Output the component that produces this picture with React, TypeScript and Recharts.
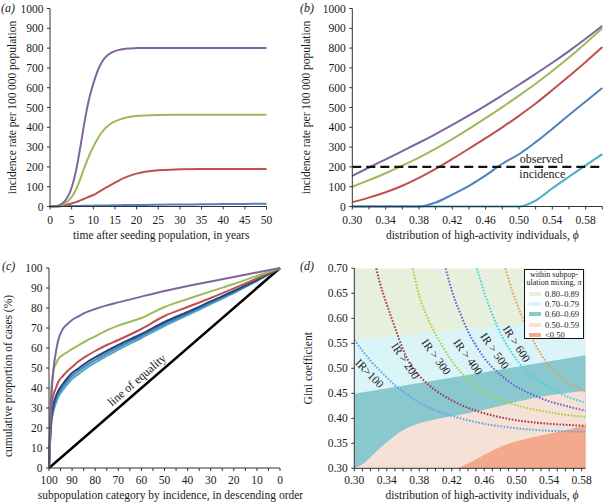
import React from 'react';
import { ComposedChart, LineChart, Line, Area, XAxis, YAxis, ReferenceLine, ReferenceDot } from 'recharts';

const FONT = "'Liberation Serif', 'Times New Roman', serif";
const INK = '#1a1a1a';
const AXIS = '#333';

const PURPLE = '#8064a2';
const GREEN = '#9bbb59';
const RED = '#c0504d';
const BLUE = '#4f81bd';
const NAVY = '#1f497d';
const CYAN = '#4bacc6';

// (a) incidence after seeding
const A_YEARS = [0, 1, 2, 3, 4, 5, 6, 7, 8, 9, 10, 11, 12, 13, 14, 15, 16, 17, 18, 20, 22, 25, 30, 35, 40, 45, 50];
const A_PURPLE = [0, 1, 5, 18, 45, 95, 180, 300, 430, 540, 620, 685, 730, 758, 775, 785, 791, 795, 798, 800, 801, 801, 801, 801, 801, 801, 801];
const A_GREEN = [0, 0, 3, 10, 24, 48, 85, 140, 200, 255, 302, 342, 375, 400, 418, 430, 439, 446, 451, 457, 460, 462, 463, 463, 463, 463, 463];
const A_RED = [0, 0, 1, 4, 9, 15, 22, 31, 40, 49, 58, 70, 83, 96, 108, 120, 132, 143, 152, 166, 175, 183, 188, 190, 190, 190, 190];
const A_BLUE = [0, 1, 1, 2, 2, 3, 3, 3, 4, 4, 4, 5, 5, 5, 6, 6, 6, 7, 7, 8, 8, 9, 10, 11, 12, 13, 14];

// (b) incidence vs phi
const B_PHI = [0.3, 0.32, 0.34, 0.36, 0.38, 0.4, 0.42, 0.44, 0.46, 0.48, 0.5, 0.52, 0.54, 0.56, 0.58, 0.6];
const B_PURPLE = [155, 197, 238, 280, 322, 366, 412, 460, 510, 562, 615, 670, 726, 785, 847, 912];
const B_GREEN = [100, 133, 168, 206, 247, 292, 340, 392, 446, 502, 560, 620, 684, 752, 825, 900];
const B_RED = [22, 45, 72, 105, 145, 190, 240, 292, 345, 400, 458, 520, 588, 658, 730, 805];
const B_BLUE = [0, 0, 0, 0, 0, 20, 60, 104, 157, 216, 264, 325, 392, 462, 530, 598];
const B_CYAN = [0, 0, 0, 0, 0, 0, 0, 0, 0, 0, 0, 30, 92, 150, 208, 265];
const OBSERVED = 200;

// (c) Lorenz curves
const C_X = [100, 99.5, 99, 98, 97, 96, 94, 92, 90, 87, 84, 80, 75, 70, 60, 50, 40, 30, 20, 10, 0];
const C_PURPLE = [0, 22, 35, 50, 58, 64, 69.5, 72, 74, 76, 77.8, 79.5, 81.3, 82.8, 85.7, 88.5, 91, 93.3, 95.5, 97.8, 100];
const C_GREEN = [0, 25, 40, 49, 52, 54.5, 56.5, 58, 59.5, 61.5, 63.5, 65.8, 68.8, 71.2, 75, 80.5, 84.5, 88.3, 92, 96, 100];
const C_RED = [0, 18, 30, 37, 40, 43, 46, 48.5, 50.5, 53.5, 55.8, 58.5, 61.5, 64, 69.5, 76, 80.5, 85, 89.8, 94.8, 100];
const C_NAVY = [0, 15, 25, 32, 36, 38.5, 42, 45, 47.5, 50, 52.5, 55.3, 58.5, 61.5, 67, 73, 78, 83.3, 88.5, 94, 100];
const C_BLUE = [0, 14, 23.5, 30.5, 34.5, 37, 40.5, 43.5, 46, 48.7, 51.2, 54, 57.2, 60.3, 66, 72, 77.2, 82.6, 88, 93.7, 100];
const C_CYAN = [0, 13, 22, 28.5, 32.5, 35.5, 39, 42, 44.5, 47.2, 49.8, 52.7, 56, 59.2, 65, 71, 76.4, 82, 87.5, 93.5, 100];
const C_EQUALITY_X = [100, 0];
const C_EQUALITY_Y = [0, 100];

// (d) mixing regions and IR contours
const D_GREEN_X = [0.3, 0.585];
const D_GREEN_Y = [0.7, 0.7];
const D_LCYAN_X = [0.3, 0.585];
const D_LCYAN_Y = [0.557, 0.601];
const D_TEAL_X = [0.3, 0.585];
const D_TEAL_Y = [0.449, 0.526];
const D_PEACH_X = [0.3, 0.31, 0.32, 0.33, 0.34, 0.35, 0.36, 0.37, 0.38, 0.39, 0.4, 0.42, 0.44, 0.46, 0.48, 0.5, 0.52, 0.54, 0.56, 0.585];
const D_PEACH_Y = [0.3, 0.308, 0.322, 0.338, 0.352, 0.365, 0.376, 0.384, 0.39, 0.394, 0.398, 0.404, 0.41, 0.417, 0.425, 0.433, 0.44, 0.446, 0.45, 0.455];
const D_SALMON_X = [0.3, 0.425, 0.44, 0.45, 0.46, 0.47, 0.48, 0.49, 0.5, 0.52, 0.54, 0.56, 0.585];
const D_SALMON_Y = [0.3, 0.3, 0.31, 0.318, 0.327, 0.335, 0.343, 0.349, 0.354, 0.362, 0.369, 0.376, 0.386];

const IR100_X = [0.3, 0.31, 0.32, 0.33, 0.34, 0.35, 0.36, 0.37, 0.38, 0.39, 0.4, 0.42, 0.44, 0.46, 0.48, 0.5, 0.52, 0.54, 0.56, 0.585];
const IR100_Y = [0.557, 0.535, 0.515, 0.498, 0.482, 0.466, 0.453, 0.442, 0.432, 0.423, 0.416, 0.405, 0.396, 0.389, 0.384, 0.38, 0.377, 0.375, 0.374, 0.373];
const IR200_X = [0.327, 0.33, 0.34, 0.35, 0.36, 0.37, 0.38, 0.39, 0.4, 0.42, 0.44, 0.46, 0.48, 0.5, 0.52, 0.54, 0.56, 0.585];
const IR200_Y = [0.7, 0.68, 0.628, 0.582, 0.538, 0.505, 0.485, 0.469, 0.456, 0.436, 0.421, 0.41, 0.402, 0.396, 0.392, 0.389, 0.387, 0.385];
const IR300_X = [0.372, 0.38, 0.39, 0.4, 0.41, 0.42, 0.43, 0.44, 0.46, 0.48, 0.5, 0.52, 0.54, 0.56, 0.585];
const IR300_Y = [0.7, 0.645, 0.602, 0.568, 0.54, 0.515, 0.494, 0.477, 0.452, 0.437, 0.426, 0.418, 0.412, 0.407, 0.403];
const IR400_X = [0.4125, 0.42, 0.43, 0.44, 0.45, 0.46, 0.47, 0.48, 0.49, 0.5, 0.52, 0.54, 0.56, 0.585];
const IR400_Y = [0.7, 0.656, 0.612, 0.574, 0.545, 0.521, 0.502, 0.487, 0.474, 0.463, 0.447, 0.434, 0.425, 0.415];
const IR500_X = [0.451, 0.46, 0.47, 0.48, 0.49, 0.5, 0.51, 0.52, 0.54, 0.56, 0.585];
const IR500_Y = [0.7, 0.652, 0.608, 0.57, 0.541, 0.517, 0.498, 0.484, 0.462, 0.445, 0.431];
const IR600_X = [0.486, 0.49, 0.5, 0.51, 0.52, 0.53, 0.54, 0.55, 0.56, 0.57, 0.585];
const IR600_Y = [0.7, 0.678, 0.63, 0.59, 0.556, 0.528, 0.505, 0.488, 0.475, 0.465, 0.453];

const MIX_LABELS = ['0.80\u20130.89', '0.70\u20130.79', '0.60\u20130.69', '0.50\u20130.59', '<0.50'];
const MIX_COLORS = ['#e6f0dc', '#dbf4f7', '#89c8cf', '#f5e1d5', '#f4a98d'];

const IR_NAMES = ['IR>100', 'IR > 200', 'IR > 300', 'IR > 400', 'IR > 500', 'IR > 600'];
const IR_COLORS = ['#5aa6e4', '#a83450', '#9ed63e', '#6a62d6', '#46d3e3', '#e6a052'];
const IR_SERIES = [
  [IR100_X, IR100_Y], [IR200_X, IR200_Y], [IR300_X, IR300_Y],
  [IR400_X, IR400_Y], [IR500_X, IR500_Y], [IR600_X, IR600_Y],
];
// anchor and angle of the rotated contour labels
const IR_LABEL_AT = [
  { x: 0.319, y: 0.49, angle: 46 },
  { x: 0.363, y: 0.515, angle: 56 },
  { x: 0.401, y: 0.523, angle: 54 },
  { x: 0.44, y: 0.523, angle: 54 },
  { x: 0.473, y: 0.535, angle: 55 },
  { x: 0.5, y: 0.549, angle: 57 },
];

const rows = (xs: number[], ys: number[]) => xs.map((x, i) => ({ x, y: ys[i] }));

const A_DATA = A_YEARS.map((t, i) => ({ t, purple: A_PURPLE[i], green: A_GREEN[i], red: A_RED[i], blue: A_BLUE[i] }));
const B_DATA = B_PHI.map((phi, i) => ({ phi, purple: B_PURPLE[i], green: B_GREEN[i], red: B_RED[i], blue: B_BLUE[i], cyan: B_CYAN[i] }));
const C_DATA = C_X.map((x, i) => ({ x, purple: C_PURPLE[i], green: C_GREEN[i], red: C_RED[i], navy: C_NAVY[i], blue: C_BLUE[i], cyan: C_CYAN[i] }));

const TXT = { fontFamily: FONT, fontSize: 11.5, fill: INK };
const tickStyle = { fontSize: 11.5, fill: INK, fontFamily: FONT };
const axisBits = {
  axisLine: { stroke: AXIS },
  tickLine: { stroke: AXIS },
  tickSize: 3,
  tick: tickStyle,
  interval: 0 as const,
};

const phi = <tspan fontStyle="italic">{'\u03d5'}</tspan>;

const xTitle = (content: React.ReactNode, dy: number, dx = 0) => (p: any) => {
  const vb = p.viewBox;
  return (
    <text x={vb.x + vb.width / 2 + dx} y={vb.y + dy} textAnchor="middle" dominantBaseline="central" style={TXT}>
      {content}
    </text>
  );
};

const yTitle = (content: string, dx: number, dy = 0) => (p: any) => {
  const vb = p.viewBox;
  const cx = vb.x + dx;
  const cy = vb.y + vb.height / 2 + dy;
  return (
    <text x={cx} y={cy} transform={`rotate(-90 ${cx} ${cy})`} textAnchor="middle" dominantBaseline="central" style={TXT}>
      {content}
    </text>
  );
};

const tagText = (content: string, dx: number, dy: number, angle: number, size: number) => (p: any) => {
  const vb = p.viewBox;
  const cx = vb.x + vb.width / 2 + dx;
  const cy = vb.y + vb.height / 2 + dy;
  return (
    <text x={cx} y={cy} transform={angle ? `rotate(${angle} ${cx} ${cy})` : undefined} textAnchor="middle"
      dominantBaseline="central" fontFamily={FONT} fontSize={size} fill={INK}>
      {content}
    </text>
  );
};

const fmt2 = (v: number) => v.toFixed(2);

function PanelA() {
  return (
    <LineChart width={282} height={250} data={A_DATA} margin={{ top: 8.5, right: 15.5, bottom: 0, left: 0 }}>
      <XAxis dataKey="t" type="number" domain={[0, 50]} ticks={[0, 5, 10, 15, 20, 25, 30, 35, 40, 45, 50]}
        height={43.5} tickMargin={6} {...axisBits}
        label={xTitle('time after seeding population, in years', 28.5, 3)} />
      <YAxis type="number" domain={[0, 1000]} ticks={[0, 100, 200, 300, 400, 500, 600, 700, 800, 900, 1000]}
        width={50} tickMargin={3.5} {...axisBits}
        label={yTitle('incidence rate per 100\u2009000 population', 11.5)} />
      <Line dataKey="blue" type="monotone" stroke={BLUE} strokeWidth={2} dot={false} isAnimationActive={false} />
      <Line dataKey="red" type="monotone" stroke={RED} strokeWidth={2} dot={false} isAnimationActive={false} />
      <Line dataKey="green" type="monotone" stroke={GREEN} strokeWidth={2} dot={false} isAnimationActive={false} />
      <Line dataKey="purple" type="monotone" stroke={PURPLE} strokeWidth={2} dot={false} isAnimationActive={false} />
    </LineChart>
  );
}

function PanelB() {
  return (
    <ComposedChart width={303} height={250} data={B_DATA} margin={{ top: 8.5, right: 0.7, bottom: 0, left: 0 }}>
      <XAxis dataKey="phi" type="number" domain={[0.3, 0.6]} ticks={B_PHI}
        tickFormatter={(v: number) => (Math.round(v * 100) % 4 === 2 ? fmt2(v) : '')}
        height={43.5} tickMargin={6} {...axisBits}
        label={xTitle(<>distribution of high-activity individuals, {phi}</>, 28.5, 5)} />
      <YAxis type="number" domain={[0, 1000]} ticks={[0, 100, 200, 300, 400, 500, 600, 700, 800, 900, 1000]}
        width={52.3} tickMargin={3.5} {...axisBits}
        label={yTitle('incidence rate per 100\u2009000 population', 6)} />
      <Line dataKey="cyan" type="monotone" stroke={CYAN} strokeWidth={2} dot={false} isAnimationActive={false} />
      <Line dataKey="blue" type="monotone" stroke={BLUE} strokeWidth={2} dot={false} isAnimationActive={false} />
      <Line dataKey="red" type="monotone" stroke={RED} strokeWidth={2} dot={false} isAnimationActive={false} />
      <Line dataKey="green" type="monotone" stroke={GREEN} strokeWidth={2} dot={false} isAnimationActive={false} />
      <Line dataKey="purple" type="monotone" stroke={PURPLE} strokeWidth={2} dot={false} isAnimationActive={false} />
      <ReferenceLine y={OBSERVED} stroke="#111" strokeWidth={2.3} strokeDasharray="9 5" />
      <ReferenceDot x={0.527} y={OBSERVED} r={0} fill="none" stroke="none" label={tagText('observed', 0, -7.6, 0, 12)} />
      <ReferenceDot x={0.528} y={OBSERVED} r={0} fill="none" stroke="none" label={tagText('incidence', 0, 7, 0, 12)} />
    </ComposedChart>
  );
}

function PanelC() {
  return (
    <LineChart width={303} height={252} data={C_DATA} margin={{ top: 18, right: 23, bottom: 0, left: 0 }}>
      <XAxis dataKey="x" type="number" domain={[0, 100]} reversed
        ticks={[100, 95, 90, 85, 80, 75, 70, 65, 60, 55, 50, 45, 40, 35, 30, 25, 20, 15, 10, 5, 0]}
        tickFormatter={(v: number) => (v % 10 === 0 ? String(v) : '')}
        height={34} tickMargin={4.5} {...axisBits}
        label={xTitle('subpopulation category by incidence, in descending order', 27, 6)} />
      <YAxis type="number" domain={[0, 100]} ticks={[0, 10, 20, 30, 40, 50, 60, 70, 80, 90, 100]}
        width={49} tickMargin={3.5} {...axisBits}
        label={yTitle('cumulative proportion of cases (%)', 8.3, 8)} />
      <Line data={rows(C_EQUALITY_X, C_EQUALITY_Y)} dataKey="y" type="linear" stroke="#000" strokeWidth={2.5} dot={false} isAnimationActive={false} />
      <Line dataKey="cyan" type="monotone" stroke={CYAN} strokeWidth={2} dot={false} isAnimationActive={false} />
      <Line dataKey="blue" type="monotone" stroke={BLUE} strokeWidth={2} dot={false} isAnimationActive={false} />
      <Line dataKey="navy" type="monotone" stroke={NAVY} strokeWidth={2} dot={false} isAnimationActive={false} />
      <Line dataKey="red" type="monotone" stroke={RED} strokeWidth={2} dot={false} isAnimationActive={false} />
      <Line dataKey="green" type="monotone" stroke={GREEN} strokeWidth={2} dot={false} isAnimationActive={false} />
      <Line dataKey="purple" type="monotone" stroke={PURPLE} strokeWidth={2} dot={false} isAnimationActive={false} />
      <ReferenceDot x={62} y={44} r={0} fill="none" stroke="none" label={tagText('line of equality', 0, 0, -41, 12)} />
    </LineChart>
  );
}

function PanelD() {
  const yTicks = [0.3, 0.35, 0.4, 0.45, 0.5, 0.55, 0.6, 0.65, 0.7];
  const xTicks = [0.3, 0.31, 0.32, 0.33, 0.34, 0.35, 0.36, 0.37, 0.38, 0.39, 0.4, 0.41, 0.42, 0.43, 0.44, 0.45,
    0.46, 0.47, 0.48, 0.49, 0.5, 0.51, 0.52, 0.53, 0.54, 0.55, 0.56, 0.57, 0.58];
  const bands = [
    [D_GREEN_X, D_GREEN_Y, MIX_COLORS[0], 'linear'],
    [D_LCYAN_X, D_LCYAN_Y, MIX_COLORS[1], 'linear'],
    [D_TEAL_X, D_TEAL_Y, MIX_COLORS[2], 'linear'],
    [D_PEACH_X, D_PEACH_Y, MIX_COLORS[3], 'monotone'],
    [D_SALMON_X, D_SALMON_Y, MIX_COLORS[4], 'monotone'],
  ] as const;
  return (
    <ComposedChart width={303} height={252} margin={{ top: 18.3, right: 17.3, bottom: 0, left: 0 }}>
      {bands.map(([xs, ys, color, kind], i) => (
        <Area key={`band${i}`} data={rows(xs as number[], ys as number[])} dataKey="y" type={kind as any}
          baseValue={0.3} fill={color} fillOpacity={1} stroke="none" isAnimationActive={false} />
      ))}
      {IR_SERIES.map(([xs, ys], i) => (
        <Line key={`ir${i}`} data={rows(xs, ys)} dataKey="y" type="monotone" stroke={IR_COLORS[i]}
          strokeWidth={2} strokeDasharray="1.6 1.6" dot={false} isAnimationActive={false} />
      ))}
      {IR_LABEL_AT.map((a, i) => (
        <ReferenceDot key={`irl${i}`} x={a.x} y={a.y} r={0} fill="none" stroke="none"
          label={tagText(IR_NAMES[i], 0, 0, a.angle, 11.5)} />
      ))}
      <XAxis dataKey="x" type="number" domain={[0.3, 0.585]} allowDataOverflow ticks={xTicks}
        tickFormatter={(v: number) => (Math.round(v * 100) % 4 === 2 ? fmt2(v) : '')}
        height={33.7} tickMargin={4.5} {...axisBits}
        label={xTitle(<>distribution of high-activity individuals, {phi}</>, 26.7, 12)} />
      <YAxis type="number" domain={[0.3, 0.7]} allowDataOverflow ticks={yTicks} tickFormatter={fmt2}
        width={54.3} tickMargin={3.5} {...axisBits}
        label={yTitle('Gini coefficient', 8.3)} />
    </ComposedChart>
  );
}

function MixLegend() {
  return (
    <div style={{
      position: 'absolute', left: 524, top: 268.5, width: 60, height: 70, boxSizing: 'border-box',
      border: '1.4px solid #111', background: '#fff', fontFamily: FONT, color: INK,
    }}>
      <div style={{ fontSize: 8, lineHeight: '7.5px', textAlign: 'center', marginTop: 1.5 }}>
        within subpop-<br />ulation mixing, <i>{'\u03c0'}</i>
      </div>
      <div style={{ marginTop: 2.5 }}>
        {MIX_LABELS.map((lab, i) => (
          <div key={lab} style={{ display: 'flex', alignItems: 'center', height: 10.4, fontSize: 8.5 }}>
            <span style={{ width: 12, height: 4, marginLeft: 4, marginRight: 4, background: MIX_COLORS[i], display: 'inline-block' }} />
            <span>{lab}</span>
          </div>
        ))}
      </div>
    </div>
  );
}

const tag = (text: string, left: number, top: number) => (
  <div style={{ position: 'absolute', left, top, fontFamily: FONT, fontStyle: 'italic', fontSize: 12, lineHeight: '12px', color: INK }}>
    {text}
  </div>
);

export default function App() {
  return (
    <div style={{ position: 'absolute', left: 0, top: 0, width: 603, height: 502, background: '#fff', overflow: 'hidden' }}>
      <div style={{ position: 'absolute', left: 0, top: 0 }}><PanelA /></div>
      <div style={{ position: 'absolute', left: 300, top: 0 }}><PanelB /></div>
      <div style={{ position: 'absolute', left: 0, top: 250 }}><PanelC /></div>
      <div style={{ position: 'absolute', left: 300, top: 250 }}><PanelD /></div>
      <MixLegend />
      {tag('(a)', 1, 2)}
      {tag('(b)', 300, 2)}
      {tag('(c)', 2, 260)}
      {tag('(d)', 300, 260)}
    </div>
  );
}
